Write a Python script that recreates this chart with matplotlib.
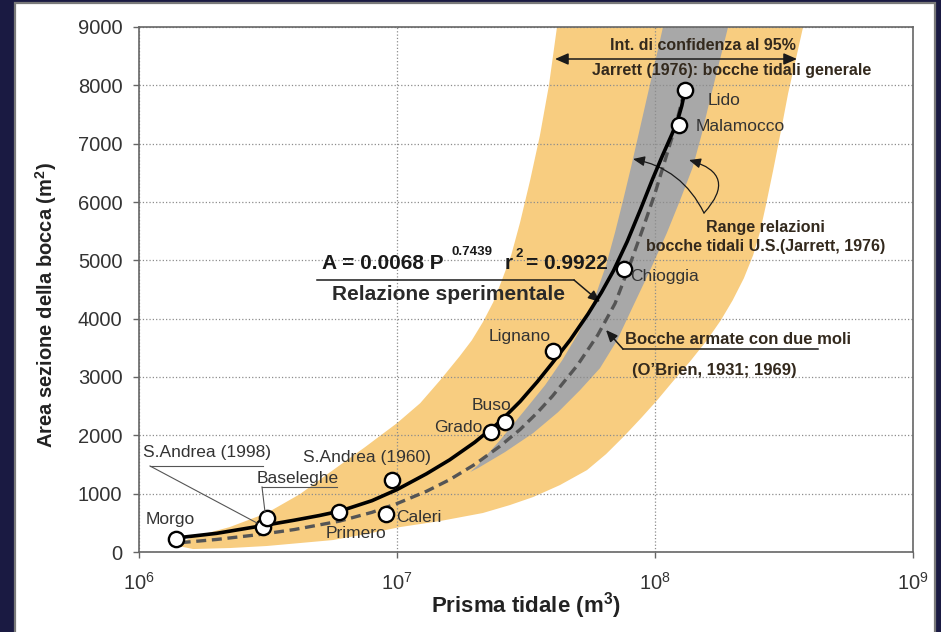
import matplotlib
matplotlib.use("Agg")
import matplotlib.pyplot as plt
from matplotlib.patches import Rectangle
from matplotlib.lines import Line2D
from matplotlib.ticker import FixedLocator, NullLocator

plt.rcParams['font.family'] = 'Liberation Sans'
plt.rcParams['mathtext.fontset'] = 'custom'
plt.rcParams['mathtext.rm'] = 'Liberation Sans'
plt.rcParams['mathtext.bf'] = 'Liberation Sans:bold'
plt.rcParams['mathtext.it'] = 'Liberation Sans:italic'

# bocche tidali: prisma (m3) e area della sezione (m2)
bocche = ['Morgo', 'S.Andrea (1998)', 'Baseleghe', 'Primero', 'Caleri', 'S.Andrea (1960)',
          'Grado', 'Buso', 'Lignano', 'Chioggia', 'Malamocco', 'Lido']
prisma = [1.39e6, 3.03e6, 3.13e6, 5.96e6, 9.06e6, 9.6e6,
          2.31e7, 2.62e7, 4.03e7, 7.59e7, 1.24e8, 1.31e8]
area = [223, 428, 582, 685, 651, 1233, 2055, 2226, 3442, 4846, 7312, 7928]

# relazione sperimentale (curva continua)
sper_p = [1.39e6, 2e6, 3e6, 4e6, 5e6, 6e6, 8e6, 1e7, 1.3e7, 1.6e7, 2e7, 2.5e7, 3e7,
          3.5e7, 4e7, 4.7e7, 5.5e7, 6.2e7, 6.9e7, 7.8e7, 8.8e7, 9.8e7, 1.07e8,
          1.16e8, 1.22e8, 1.27e8, 1.31e8]
sper_a = [240, 320, 450, 545, 625, 700, 880, 1070, 1340, 1580, 1880, 2230, 2580,
          2920, 3240, 3640, 4080, 4450, 4820, 5320, 5880, 6400, 6800,
          7150, 7380, 7650, 7930]

# O'Brien, bocche armate (curva tratteggiata)
obr_p = [1.45e6, 2e6, 3e6, 4e6, 6e6, 8e6, 1e7, 1.3e7, 1.6e7, 2e7, 2.5e7, 3e7, 3.5e7,
         4e7, 5e7, 6e7, 7e7, 8e7, 9e7, 1e8, 1.1e8, 1.2e8, 1.28e8]
obr_a = [160, 215, 305, 385, 530, 680, 830, 1040, 1240, 1500, 1810, 2100, 2390,
         2670, 3200, 3720, 4260, 4930, 5560, 6150, 6750, 7300, 7780]

# range relazioni bocche U.S. (banda grigia)
us_sup_p = [1.92e7, 2.06e7, 2.51e7, 3.13e7, 3.75e7, 4.37e7, 5.04e7, 5.71e7, 6.46e7,
            7.0e7, 7.52e7, 8.07e7, 8.67e7, 9.31e7, 1.0e8, 1.074e8]
us_sup_a = [1370, 1490, 1918, 2432, 2860, 3288, 3750, 4229, 4914,
            5479, 6027, 6592, 7192, 7791, 8390, 9000]
us_inf_p = [1.92e7, 2.06e7, 2.62e7, 3.37e7, 4.21e7, 5.12e7, 6.12e7, 7.13e7, 8.22e7,
            9.57e7, 1.11e8, 1.25e8, 1.40e8, 1.52e8, 1.63e8, 1.77e8, 1.92e8]
us_inf_a = [1370, 1438, 1712, 2038, 2397, 2774, 3151, 3630, 4212,
            4829, 5462, 6027, 6592, 7175, 7740, 8373, 9000]

# intervallo di confidenza 95% Jarrett (banda arancio)
ci_sup_p = [1.42e6, 1.44e6, 1.62e6, 2.25e6, 3.13e6, 4.21e6, 5.65e6, 7.52e6, 1.0e7,
            1.23e7, 1.47e7, 1.75e7, 1.95e7, 2.15e7, 2.36e7, 2.55e7, 2.77e7, 3.0e7,
            3.28e7, 3.58e7, 3.88e7, 4.17e7]
ci_sup_a = [103, 154, 257, 428, 668, 993, 1404, 1798, 2209,
            2551, 2945, 3356, 3630, 3938, 4281, 4658, 5086, 5651,
            6370, 7140, 7997, 9000]
ci_inf_p = [1.42e6, 1.62e6, 2.25e6, 3.13e6, 4.21e6, 5.65e6, 7.59e6, 1.03e7, 1.47e7,
            2.15e7, 2.74e7, 3.37e7, 4.28e7, 5.45e7, 6.46e7, 7.59e7, 8.83e7, 1.02e8,
            1.175e8, 1.37e8, 1.59e8, 1.80e8, 2.0e8, 2.21e8, 2.40e8, 2.55e8, 2.69e8,
            2.87e8, 3.08e8, 3.28e8, 3.52e8, 3.75e8]
ci_inf_a = [103, 51, 68, 103, 154, 205, 308, 428, 531,
            668, 805, 942, 1147, 1404, 1678, 1986, 2295, 2603,
            2928, 3271, 3630, 3973, 4315, 4692, 5086, 5479, 5942,
            6541, 7226, 7860, 8459, 9000]

y_ticks = [0, 1000, 2000, 3000, 4000, 5000, 6000, 7000, 8000, 9000]
x_ticks = [1e6, 1e7, 1e8, 1e9]

W, H = 941, 632
fig = plt.figure(figsize=(W / 100, H / 100), dpi=100)
fig.patch.set_facecolor('#1a1a42')


def fpx(x, y):
    # pixel dell'immagine -> frazione della figura
    return x / W, 1 - y / H


# pannello bianco
fig.add_artist(Rectangle((15 / W, -0.02), 920 / W, 1 - 3 / H + 0.02,
                         transform=fig.transFigure, facecolor='white',
                         edgecolor='#7a7a7a', lw=1.6, zorder=0))

ax = fig.add_axes([139 / W, 80 / H, 774 / W, 525 / H])
ax.set_xscale('log')
ax.set_xlim(1e6, 1e9)
ax.set_ylim(0, 9000)
ax.set_facecolor('none')

ax.fill(ci_sup_p + ci_inf_p[::-1], ci_sup_a + ci_inf_a[::-1],
        color='#f8cd80', lw=0, zorder=1)
ax.fill(us_sup_p + us_inf_p[::-1], us_sup_a + us_inf_a[::-1],
        color='#a8a8a8', lw=0, zorder=1.1)

ax.plot(obr_p, obr_a, color='#555555', lw=2.4, dashes=(3, 1.7), zorder=3)
ax.plot(sper_p, sper_a, color='black', lw=2.6, zorder=4)
ax.plot(prisma, area, 'o', ms=11, mfc='white', mec='black', mew=1.7, zorder=5)

# etichette dei punti (spostamento in pixel, allineamento)
offs = {
    'Morgo': (-6, 19, 'center'),
    'Primero': (17, -21, 'center'),
    'Caleri': (10, -3, 'left'),
    'S.Andrea (1960)': (-25, 23, 'center'),
    'Grado': (-32, 5, 'center'),
    'Buso': (-13, 17, 'center'),
    'Lignano': (-33, 15, 'center'),
    'Chioggia': (6, -7, 'left'),
    'Malamocco': (17, -1, 'left'),
    'Lido': (22, -11, 'left'),
}
for nome, p, a in zip(bocche, prisma, area):
    if nome in offs:
        dx, dy, ha = offs[nome]
        ax.annotate(nome, (p, a), xytext=(dx, dy), textcoords='offset pixels',
                    ha=ha, va='center', fontsize=12.5, color='#333333', zorder=6)

# assi
ax.xaxis.set_major_locator(FixedLocator(x_ticks))
ax.xaxis.set_minor_locator(NullLocator())
ax.yaxis.set_major_locator(FixedLocator(y_ticks))
ax.grid(True, which='major', color='#8c8c8c', ls=':', lw=0.9)
ax.set_axisbelow('line')
for s in ax.spines.values():
    s.set_color('#666666')
    s.set_linewidth(1.2)
ax.tick_params(axis='y', direction='out', length=4, width=1, color='#666666',
               labelsize=14.5, labelcolor='#333333', pad=8)
ax.tick_params(axis='x', direction='out', length=4, width=1, color='#666666',
               labelsize=14.5, labelcolor='#333333', pad=10)

fig.text(*fpx(46, 305), r'Area sezione della bocca (m$^{\mathbf{2}}$)', rotation=90,
         ha='center', va='center', fontsize=14.5, fontweight='bold', color='#222222')
fig.text(*fpx(526, 606), r'Prisma tidale (m$^{\mathbf{3}}$)',
         ha='center', va='center', fontsize=16, fontweight='bold', color='#222222')

tc = '#33291d'
arr = dict(arrowstyle='-|>,head_length=0.7,head_width=0.3', color='#1a1a1a', lw=1.1,
           shrinkA=0, shrinkB=0)

# intervallo di confidenza
fig.text(*fpx(703, 45), 'Int. di confidenza al 95%', ha='center', va='center',
         fontsize=11.5, fontweight='bold', color=tc)
fig.text(*fpx(732, 71), 'Jarrett (1976): bocche tidali generale', ha='center', va='center',
         fontsize=11.5, fontweight='bold', color=tc)
ax.annotate('', xy=fpx(555, 59), xycoords='figure fraction', xytext=fpx(797, 59),
            textcoords='figure fraction',
            arrowprops=dict(arrowstyle='<|-|>,head_length=0.8,head_width=0.35',
                            color='#1a1a1a', lw=1.1, shrinkA=0, shrinkB=0))

# formula
fig.text(*fpx(322, 269), 'A = 0.0068 P', ha='left', va='baseline', fontsize=15,
         fontweight='bold', color='#1a1a1a')
fig.text(*fpx(452, 255), '0.7439', ha='left', va='baseline', fontsize=9.5,
         fontweight='bold', color='#1a1a1a')
fig.text(*fpx(505, 269), 'r', ha='left', va='baseline', fontsize=15,
         fontweight='bold', color='#1a1a1a')
fig.text(*fpx(516, 257), '2', ha='left', va='baseline', fontsize=9.5,
         fontweight='bold', color='#1a1a1a')
fig.text(*fpx(526, 269), '= 0.9922', ha='left', va='baseline', fontsize=15,
         fontweight='bold', color='#1a1a1a')
fig.add_artist(Line2D([317 / W, 574 / W], [1 - 280 / H, 1 - 280 / H],
                      transform=fig.transFigure, color='#1a1a1a', lw=1.1))
ax.annotate('', xy=fpx(600, 302), xycoords='figure fraction', xytext=fpx(574, 280),
            textcoords='figure fraction', arrowprops=arr)
fig.text(*fpx(449, 295), 'Relazione sperimentale', ha='center', va='center',
         fontsize=15, fontweight='bold', color='#2a2a2a')

# range U.S.
fig.text(*fpx(765, 228), 'Range relazioni', ha='center', va='center',
         fontsize=11.5, fontweight='bold', color=tc)
fig.text(*fpx(766, 247), 'bocche tidali U.S.(Jarrett, 1976)', ha='center', va='center',
         fontsize=11.5, fontweight='bold', color=tc)
arr_c = dict(arr, lw=0.9)
ax.annotate('', xy=fpx(633, 159), xycoords='figure fraction', xytext=fpx(704, 213),
            textcoords='figure fraction',
            arrowprops=dict(arr_c, connectionstyle='arc3,rad=0.25'))
ax.annotate('', xy=fpx(689, 160), xycoords='figure fraction', xytext=fpx(704, 213),
            textcoords='figure fraction',
            arrowprops=dict(arr_c, connectionstyle='arc3,rad=0.8'))

# O'Brien
fig.text(*fpx(625, 340), 'Bocche armate con due moli', ha='left', va='center',
         fontsize=12, fontweight='bold', color=tc)
fig.text(*fpx(632, 370), '(O\u2019Brien, 1931; 1969)', ha='left', va='center',
         fontsize=12, fontweight='bold', color=tc)
fig.add_artist(Line2D([623 / W, 818 / W], [1 - 349 / H, 1 - 349 / H],
                      transform=fig.transFigure, color='#1a1a1a', lw=1.1))
ax.annotate('', xy=fpx(606, 330), xycoords='figure fraction', xytext=fpx(623, 349),
            textcoords='figure fraction', arrowprops=arr)

# S.Andrea (1998) e Baseleghe con richiami
fig.text(*fpx(207, 453), 'S.Andrea (1998)', ha='center', va='center',
         fontsize=12.5, color='#333333')
fig.text(*fpx(298, 478), 'Baseleghe', ha='center', va='center',
         fontsize=12.5, color='#333333')
for xs, ys in [([150, 263], [466, 466]), ([150, 257], [466, 523]),
               ([262, 337], [487, 487]), ([262, 265], [487, 512])]:
    fig.add_artist(Line2D([x / W for x in xs], [1 - y / H for y in ys],
                          transform=fig.transFigure, color='#555555', lw=0.8, zorder=4))

plt.savefig('out.png', dpi=100, facecolor=fig.get_facecolor())
